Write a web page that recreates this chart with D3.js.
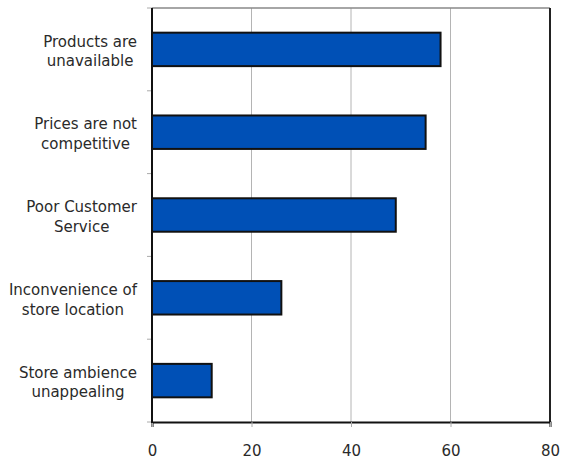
<!DOCTYPE html>
<html><head><meta charset="utf-8">
<script src="https://cdn.jsdelivr.net/npm/d3@7"></script>
<style>body{margin:0;background:#fff}svg{display:block}</style>
</head><body>
<script>
const categories = [
  ["Products are", "unavailable"],
  ["Prices are not", "competitive"],
  ["Poor Customer", "Service"],
  ["Inconvenience of", "store location"],
  ["Store ambience", "unappealing"]
];
const values = [58, 55, 49, 26, 12];
const xTicks = [0, 20, 40, 60, 80];

const W = 561, H = 461;
const m = {left: 152, right: 11, top: 8, bottom: 39};
const svg = d3.select("body").append("svg").attr("width", W).attr("height", H);
const iw = W - m.left - m.right, ih = H - m.top - m.bottom;
const g = svg.append("g").attr("transform", `translate(${m.left},${m.top})`);
const font = "'DejaVu Sans', Verdana, sans-serif";

const x = d3.scaleLinear().domain([0, 80]).range([0, iw]);
const y = d3.scaleBand().domain(d3.range(categories.length)).range([0, ih]).paddingInner(0.596).paddingOuter(0.298);

// gridlines
g.selectAll(".grid").data(xTicks.slice(1, -1)).join("line")
  .attr("x1", d => x(d)).attr("x2", d => x(d)).attr("y1", 0).attr("y2", ih)
  .attr("stroke", "#b4b4b4").attr("stroke-width", 1);

// frame
g.append("line").attr("x1", 0).attr("x2", iw).attr("y1", 0).attr("y2", 0).attr("stroke", "#888").attr("stroke-width", 1.5);
g.append("line").attr("x1", iw).attr("x2", iw).attr("y1", 0).attr("y2", ih).attr("stroke", "#222").attr("stroke-width", 2);

// bars
g.selectAll(".bar").data(values).join("rect")
  .attr("x", 0).attr("y", (d, i) => y(i)).attr("width", d => x(d)).attr("height", y.bandwidth())
  .attr("fill", "#0050b6").attr("stroke", "#111").attr("stroke-width", 2);

// x axis
const xa = g.append("g").attr("transform", `translate(0,${ih})`)
  .call(d3.axisBottom(x).tickValues(xTicks).tickSize(5).tickPadding(18));
xa.select(".domain").attr("stroke", "#111").attr("stroke-width", 2);
xa.selectAll(".tick line").attr("stroke", "#aaa");
xa.selectAll(".tick text").attr("font-family", font).attr("font-size", 15).attr("fill", "#2a2a2a");

// y axis boundaries ticks
const yb = d3.range(categories.length + 1).map(i => i * y.step());
g.selectAll(".ytick").data(yb).join("line")
  .attr("x1", -5).attr("x2", 0).attr("y1", d => d).attr("y2", d => d)
  .attr("stroke", "#aaa");
g.append("line").attr("x1", 0).attr("x2", 0).attr("y1", 0).attr("y2", ih + 1).attr("stroke", "#111").attr("stroke-width", 2);

// category labels
categories.forEach((lines, i) => {
  const cy = y(i) + y.bandwidth() / 2;
  const t = svg.append("text").attr("font-family", font).attr("font-size", 15).attr("fill", "#2a2a2a")
    .attr("text-anchor", "middle");
  lines.forEach((s, j) => {
    t.append("tspan").attr("x", 0).attr("y", m.top + cy + (j - (lines.length - 1) / 2) * 19.5 + 7).text(s);
  });
  let maxw = 0;
  t.selectAll("tspan").each(function(){ maxw = Math.max(maxw, this.getComputedTextLength()); });
  const cx = 137 - maxw / 2;
  t.selectAll("tspan").attr("x", cx);
});
</script>
</body></html>
